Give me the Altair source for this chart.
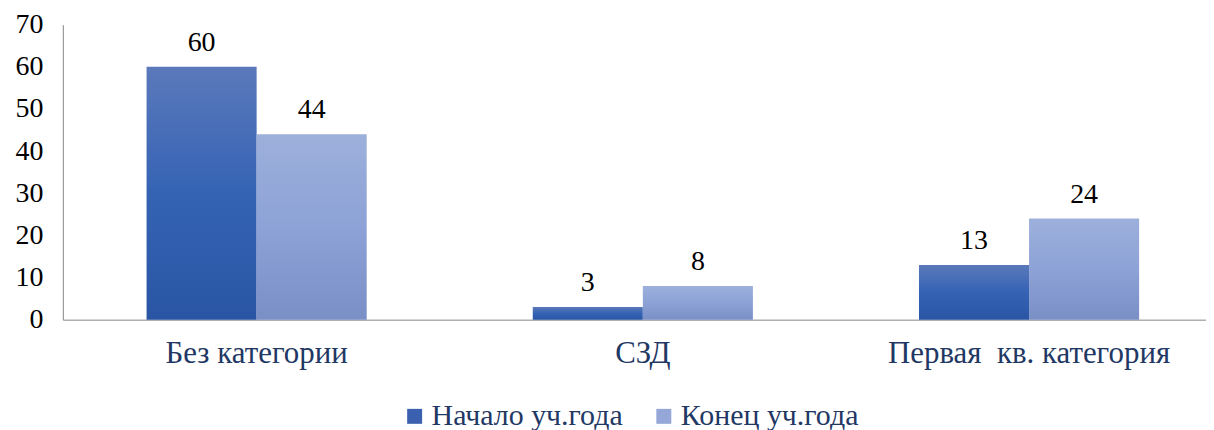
import altair as alt
import pandas as pd

categories = ["Без категории", "СЗД", "Первая\u00a0 кв. категория"]
series = ["Начало уч.года", "Конец уч.года"]
start_values = [60, 3, 13]
end_values = [44, 8, 24]

rows = []
for c, a, b in zip(categories, start_values, end_values):
    rows.append({"category": c, "series": series[0], "value": a})
    rows.append({"category": c, "series": series[1], "value": b})
df = pd.DataFrame(rows)

FONT = "Liberation Serif"
NAVY = "#1F3864"
AXIS_GREY = "#868686"

x_enc = alt.X(
    "category:N",
    sort=categories,
    scale=alt.Scale(domain=categories, paddingInner=0.43, paddingOuter=0.195, align=0.556),
    axis=alt.Axis(title=None, labelAngle=0, labelFont=FONT, labelFontSize=31,
                  labelColor=NAVY, labelPadding=19, ticks=False, labelLimit=600,
                  domainColor=AXIS_GREY, domainWidth=1),
)
y_enc = alt.Y(
    "value:Q",
    scale=alt.Scale(domain=[0, 70], nice=False),
    axis=alt.Axis(title=None, values=list(range(0, 71, 10)), ticks=False, grid=False,
                  labelFont=FONT, labelFontSize=28, labelColor="black",
                  labelPadding=20, domainColor=AXIS_GREY, domainWidth=1),
)
xo = alt.XOffset("series:N", sort=series,
                 scale=alt.Scale(domain=series, paddingInner=0, paddingOuter=0))

grad1 = alt.Gradient(
    gradient="linear",
    stops=[alt.GradientStop(color="#5B79BB", offset=0),
           alt.GradientStop(color="#3563B4", offset=0.5),
           alt.GradientStop(color="#2A55A5", offset=1)],
    x1=0, x2=0, y1=0, y2=1,
)
grad2 = alt.Gradient(
    gradient="linear",
    stops=[alt.GradientStop(color="#9DB0DC", offset=0),
           alt.GradientStop(color="#8DA2D6", offset=0.5),
           alt.GradientStop(color="#7A8FC6", offset=1)],
    x1=0, x2=0, y1=0, y2=1,
)

base = alt.Chart(df)

bars1 = base.transform_filter(alt.datum.series == series[0]).mark_bar(
    color=grad1).encode(x=x_enc, xOffset=xo, y=y_enc)
bars2 = base.transform_filter(alt.datum.series == series[1]).mark_bar(
    color=grad2).encode(x=x_enc, xOffset=xo, y=y_enc)

labels = base.mark_text(dy=-16, baseline="alphabetic", font=FONT, fontSize=28,
                        color="black").encode(
    x=x_enc, xOffset=xo, y=y_enc, text="value:Q")

legend_layer = base.transform_filter("false").mark_square(opacity=1).encode(
    color=alt.Color("series:N",
                    scale=alt.Scale(domain=series, range=["#3A60AF", "#94A7D8"]),
                    legend=alt.Legend(title=None, orient="none", direction="horizontal",
                                      legendX=338, legendY=378,
                                      symbolType="square", symbolSize=225,
                                      symbolStrokeWidth=0, labelLimit=400,
                                      labelFont=FONT, labelFontSize=30,
                                      labelColor=NAVY, labelOffset=2,
                                      columnPadding=26))
)

chart = alt.layer(bars1, bars2, labels, legend_layer).properties(
    width=1147, height=296,
    autosize=alt.AutoSizeParams(type="none"),
    padding={"left": 55, "top": 16, "right": 0, "bottom": 110},
).configure(font=FONT).configure_view(stroke=None)

chart.save("out.html", embed_options={"renderer": "svg", "actions": False})
